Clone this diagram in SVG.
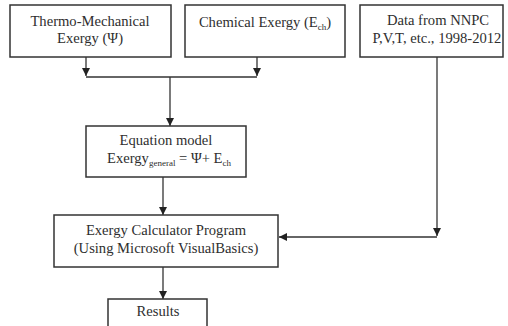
<svg xmlns="http://www.w3.org/2000/svg" width="508" height="326" viewBox="0 0 508 326">
<style>
.box{fill:#fff;stroke:#333;stroke-width:1.5}
.t{font-family:"Liberation Serif","Times New Roman","DejaVu Serif",serif;font-size:14.6px;fill:#2e2e2e;text-anchor:middle}
.sub{font-size:9px}
.c{fill:none;stroke:#333;stroke-width:1.3}
</style>
<defs>
<marker id="ah" viewBox="0 0 10 10" refX="10" refY="5" markerWidth="8" markerHeight="8" markerUnits="userSpaceOnUse" orient="auto">
<path d="M0,0 L10,5 L0,10 Z" fill="#222"/>
</marker>
</defs>
<rect width="508" height="326" fill="#fff"/>
<g id="connectors">
<path class="c" d="M86,57 V76" marker-end="url(#ah)"/>
<path class="c" d="M257,57 V76" marker-end="url(#ah)"/>
<path class="c" d="M86,77 H257"/>
<path class="c" d="M170,77 V126" marker-end="url(#ah)"/>
<path class="c" d="M163,177 V215" marker-end="url(#ah)"/>
<path class="c" d="M437,57 V236" marker-end="url(#ah)"/>
<path class="c" d="M437,237 H279" marker-end="url(#ah)"/>
<path class="c" d="M163,267 V299" marker-end="url(#ah)"/>
</g>
<g id="thermo">
<rect class="box" x="10" y="5" width="161" height="52"/>
<text class="t" x="90" y="26">Thermo-Mechanical</text>
<text class="t" x="90" y="43">Exergy (Ψ)</text>
</g>
<g id="chemical">
<rect class="box" x="185" y="5" width="160" height="52"/>
<text class="t" x="265" y="27">Chemical Exergy (E<tspan class="sub" dy="3">ch</tspan><tspan dy="-3">)</tspan></text>
</g>
<g id="data">
<rect class="box" x="360" y="5" width="143" height="52"/>
<text class="t" x="438" y="25">Data from NNPC</text>
<text class="t" x="437" y="43">P,V,T, etc., 1998-2012</text>
</g>
<g id="equation">
<rect class="box" x="86" y="126" width="160" height="51"/>
<text class="t" x="166" y="145">Equation model</text>
<text class="t" x="169" y="163">Exergy<tspan class="sub" dy="3">general</tspan><tspan dy="-3"> = Ψ+ E</tspan><tspan class="sub" dy="3">ch</tspan></text>
</g>
<g id="calculator">
<rect class="box" x="54" y="215" width="224" height="52"/>
<text class="t" x="166" y="235">Exergy Calculator Program</text>
<text class="t" x="166" y="253">(Using Microsoft VisualBasics)</text>
</g>
<g id="results">
<rect class="box" x="108" y="299" width="99" height="40"/>
<text class="t" x="158" y="316">Results</text>
</g>
</svg>
